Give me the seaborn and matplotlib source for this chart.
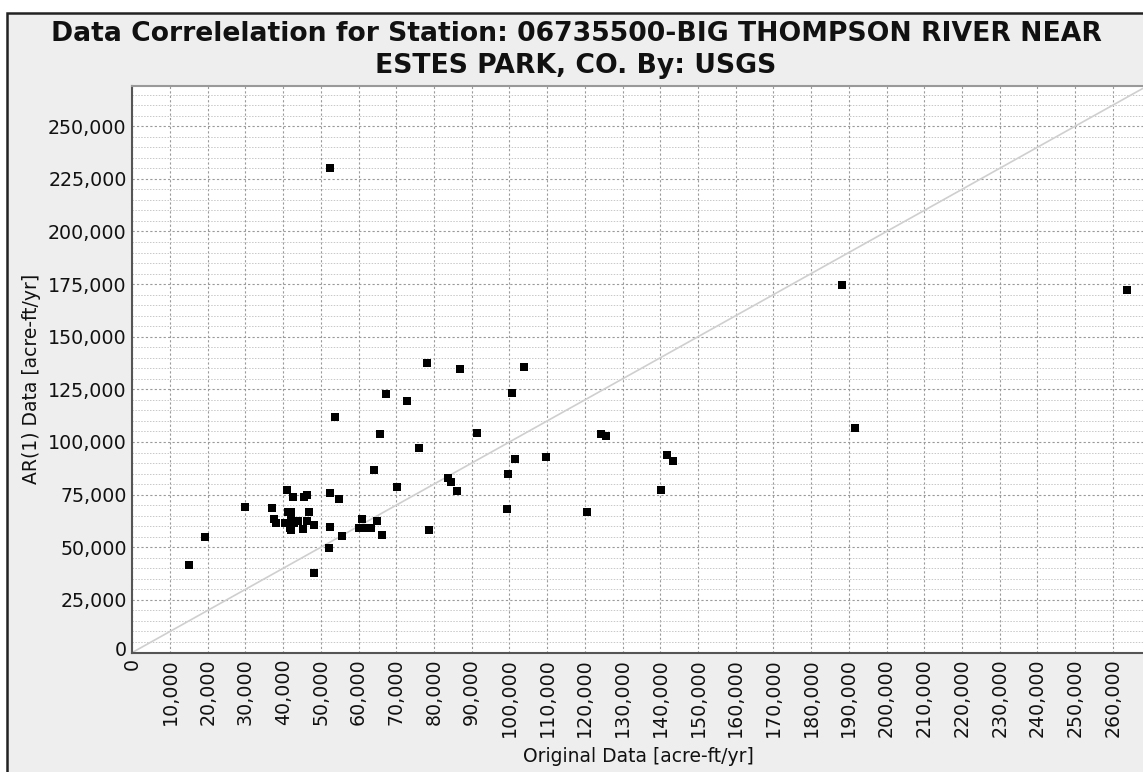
import matplotlib
matplotlib.use("Agg")
import matplotlib.pyplot as plt
import matplotlib.ticker as mticker
import matplotlib.transforms as mtransforms
from matplotlib.patches import Rectangle
import seaborn as sns
import pandas as pd

# Data (thousands of acre-ft/yr)
original_k = [
    15.0, 19.4, 30.0, 37.1, 37.6, 38.1, 41.0, 42.6, 45.4, 46.4,
    41.2, 42.1, 46.9, 40.5, 42.1, 43.0, 44.0, 46.2, 41.8, 42.1,
    45.2, 48.1, 48.1, 52.5, 54.8, 52.4, 52.1, 55.5, 60.9, 60.2,
    61.2, 62.3, 63.2, 64.9, 64.0, 53.8, 65.7, 76.1, 70.1, 78.7,
    66.2, 67.3, 72.9, 78.2, 86.9, 103.9, 100.7, 91.4, 124.4, 125.7,
    101.4, 109.8, 141.7, 143.5, 83.6, 84.5, 86.2, 99.6, 140.3, 99.4,
    120.6, 52.5, 188.3, 263.7, 191.5,
]
ar1_k = [
    41.4, 55.0, 69.3, 68.6, 63.6, 61.4, 77.3, 73.7, 73.7, 75.0,
    66.9, 66.9, 66.9, 61.5, 62.9, 61.5, 62.5, 62.3, 59.0, 58.2,
    58.5, 60.6, 37.8, 75.9, 72.8, 59.6, 49.6, 55.3, 63.6, 59.1,
    59.1, 59.1, 59.1, 62.3, 86.8, 111.9, 103.8, 97.1, 78.8, 58.2,
    56.0, 122.8, 119.5, 137.6, 134.8, 135.8, 123.4, 104.4, 103.9, 103.0,
    91.8, 92.7, 93.7, 90.8, 83.0, 81.0, 76.7, 84.9, 77.2, 68.2,
    66.7, 230.2, 174.6, 172.2, 106.7,
]
df = pd.DataFrame({"orig": [v * 1000 for v in original_k],
                   "ar1": [v * 1000 for v in ar1_k]})

title = "Data Correlelation for Station: 06735500-BIG THOMPSON RIVER NEAR\nESTES PARK, CO. By: USGS"
xlabel = "Original Data [acre-ft/yr]"
ylabel = "AR(1) Data [acre-ft/yr]"

sns.set_style("white")
plt.rcParams['font.family'] = ['DejaVu Sans']

W, H = 1143, 772
fig = plt.figure(figsize=(W / 100, H / 100), dpi=100, facecolor="white")
# panel background with black border
fig.patches.append(Rectangle((7 / W, -0.05), 1.2, (H - 12.5) / H + 0.05, transform=fig.transFigure,
                             facecolor="#eeeeee", edgecolor="#222222", linewidth=1.8, zorder=-10))

left = 132.3 / W
bottom = (H - 652.5) / H
top = (H - 86) / H
ax = fig.add_axes([left, bottom, 1.0 - left + 0.001, top - bottom])
ax.set_zorder(1)
ax.set_facecolor("white")

ax.axline((0, 0), slope=1, color="#cfcfcf", linewidth=1.2, zorder=2)
sns.scatterplot(data=df, x="orig", y="ar1", marker="s", color="black", s=28,
                linewidth=0, ax=ax, zorder=3)

ax.set_xlim(0, 268300)
ax.set_ylim(0, 269100)
ax.xaxis.set_major_locator(mticker.MultipleLocator(10000))
ax.yaxis.set_major_locator(mticker.MultipleLocator(25000))
ax.yaxis.set_minor_locator(mticker.MultipleLocator(5000))
fmt = mticker.FuncFormatter(lambda v, p: f"{int(round(v)):,}")
ax.xaxis.set_major_formatter(fmt)
ax.yaxis.set_major_formatter(fmt)

ax.grid(True, which="major", axis="both", color="#9a9a9a", linestyle=(0, (2, 2)), linewidth=0.8)
ax.grid(True, which="minor", axis="y", color="#c8c8c8", linestyle=(0, (1.5, 1.5)), linewidth=0.7)
ax.set_axisbelow(True)

for s in ["left", "bottom"]:
    ax.spines[s].set_color("#555555")
    ax.spines[s].set_linewidth(1.5)
ax.spines["top"].set_color("#999999")
ax.spines["top"].set_linewidth(1.5)
ax.spines["right"].set_visible(False)

ax.tick_params(axis="x", which="major", labelsize=13.7, rotation=90, length=2, color="#888888", pad=2)
ax.tick_params(axis="y", which="major", labelsize=13.7, length=2, color="#888888", pad=2)
ax.tick_params(axis="y", which="minor", length=0)
for lab in ax.get_xticklabels() + ax.get_yticklabels():
    lab.set_color("#111111")

# nudge the y-axis "0" label up slightly so it sits beside the rotated x "0"
fig.canvas.draw()
for tick in ax.yaxis.get_major_ticks():
    if abs(tick.get_loc()) < 1:
        tick.label1.set_transform(tick.label1.get_transform() +
                                  mtransforms.ScaledTranslation(0, 4 / 100, fig.dpi_scale_trans))

ax.set_xlabel("")
ax.set_ylabel("")
fig.text(638 / W, (H - 757) / H, xlabel, ha="center", va="center", fontsize=13.5, color="#111111")
fig.text(32 / W, (H - 379) / H, ylabel, ha="center", va="center", rotation=90, fontsize=13.5,
         color="#111111")
fig.text(576 / W, (H - 50) / H, title, ha="center", va="center", fontsize=19.2, fontweight="bold",
         linespacing=1.28, color="#111111")

fig.savefig("out.png", dpi=100, facecolor=fig.get_facecolor())
